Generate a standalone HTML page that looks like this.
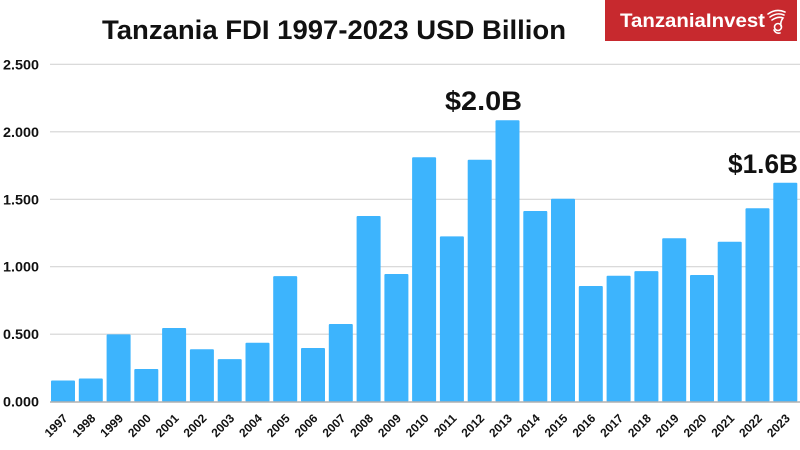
<!DOCTYPE html>
<html><head><meta charset="utf-8"><style>
html,body{margin:0;padding:0;background:#fff;}
svg{display:block;}
text{font-family:"Liberation Sans",Arial,sans-serif;font-weight:bold;fill:#111;}
</style></head><body>
<svg width="800" height="450" viewBox="0 0 800 450" xmlns="http://www.w3.org/2000/svg">
<rect width="800" height="450" fill="#fff"/>
<!-- title -->
<text x="102" y="39" font-size="27" textLength="464" lengthAdjust="spacingAndGlyphs">Tanzania FDI 1997-2023 USD Billion</text>
<!-- logo -->
<rect x="605" y="0" width="192" height="41" fill="#c7292e"/>
<text x="620" y="27" font-size="19.5" style="fill:#fff" textLength="145" lengthAdjust="spacingAndGlyphs">TanzaniaInvest</text>
<g fill="none" stroke="#fff" stroke-width="1.6" stroke-linecap="round">
<path d="M768 14 Q776 8 785 12"/>
<path d="M770 17 Q777 12 784 15"/>
<path d="M772 20 Q778 16 783 18 Q780 22 781 26"/>
<circle cx="778" cy="27" r="3.5"/>
<path d="M774 30 Q776 34 780 33"/>
</g>
<!-- gridlines -->
<g stroke="#d4d4d4" stroke-width="1.2">
<line x1="50" y1="64.3" x2="800" y2="64.3"/>
<line x1="50" y1="131.8" x2="800" y2="131.8"/>
<line x1="50" y1="199.3" x2="800" y2="199.3"/>
<line x1="50" y1="266.7" x2="800" y2="266.7"/>
<line x1="50" y1="334.2" x2="800" y2="334.2"/>
</g>
<!-- y labels -->
<g font-size="13.5">
<text x="3" y="69.3" textLength="36" lengthAdjust="spacingAndGlyphs">2.500</text>
<text x="3" y="136.8" textLength="36" lengthAdjust="spacingAndGlyphs">2.000</text>
<text x="3" y="204.3" textLength="36" lengthAdjust="spacingAndGlyphs">1.500</text>
<text x="3" y="271.7" textLength="36" lengthAdjust="spacingAndGlyphs">1.000</text>
<text x="3" y="339.2" textLength="36" lengthAdjust="spacingAndGlyphs">0.500</text>
<text x="3" y="406.7" textLength="36" lengthAdjust="spacingAndGlyphs">0.000</text>
</g>
<!-- bars -->
<g fill="#3db4fd">
<rect x="51.0" y="380.5" width="24" height="21.2" rx="1"/>
<rect x="78.8" y="378.5" width="24" height="23.2" rx="1"/>
<rect x="106.6" y="334.4" width="24" height="67.3" rx="1"/>
<rect x="134.3" y="369.0" width="24" height="32.7" rx="1"/>
<rect x="162.1" y="328.0" width="24" height="73.7" rx="1"/>
<rect x="189.9" y="349.2" width="24" height="52.5" rx="1"/>
<rect x="217.7" y="359.1" width="24" height="42.6" rx="1"/>
<rect x="245.5" y="342.7" width="24" height="59.0" rx="1"/>
<rect x="273.2" y="276.1" width="24" height="125.6" rx="1"/>
<rect x="301.0" y="348.0" width="24" height="53.7" rx="1"/>
<rect x="328.8" y="324.0" width="24" height="77.7" rx="1"/>
<rect x="356.6" y="216.0" width="24" height="185.7" rx="1"/>
<rect x="384.4" y="274.0" width="24" height="127.7" rx="1"/>
<rect x="412.1" y="157.3" width="24" height="244.4" rx="1"/>
<rect x="439.9" y="236.4" width="24" height="165.3" rx="1"/>
<rect x="467.7" y="159.7" width="24" height="242.0" rx="1"/>
<rect x="495.5" y="120.3" width="24" height="281.4" rx="1"/>
<rect x="523.3" y="211.0" width="24" height="190.7" rx="1"/>
<rect x="551.0" y="198.7" width="24" height="203.0" rx="1"/>
<rect x="578.8" y="286.0" width="24" height="115.7" rx="1"/>
<rect x="606.6" y="275.7" width="24" height="126.0" rx="1"/>
<rect x="634.4" y="271.1" width="24" height="130.6" rx="1"/>
<rect x="662.2" y="238.3" width="24" height="163.4" rx="1"/>
<rect x="690.0" y="275.0" width="24" height="126.7" rx="1"/>
<rect x="717.7" y="241.7" width="24" height="160.0" rx="1"/>
<rect x="745.5" y="208.3" width="24" height="193.4" rx="1"/>
<rect x="773.3" y="182.7" width="24" height="219.0" rx="1"/>
</g>
<!-- baseline -->
<line x1="50" y1="402" x2="800" y2="402" stroke="#b0b0b0" stroke-width="1.4"/>
<!-- annotations -->
<text x="445" y="110" font-size="27" textLength="77" lengthAdjust="spacingAndGlyphs">$2.0B</text>
<text x="728" y="173" font-size="27" textLength="70" lengthAdjust="spacingAndGlyphs">$1.6B</text>
<!-- x labels -->
<g font-size="12" text-anchor="end">
<text transform="translate(68.4,419) rotate(-45)">1997</text>
<text transform="translate(96.2,419) rotate(-45)">1998</text>
<text transform="translate(124.0,419) rotate(-45)">1999</text>
<text transform="translate(151.7,419) rotate(-45)">2000</text>
<text transform="translate(179.5,419) rotate(-45)">2001</text>
<text transform="translate(207.3,419) rotate(-45)">2002</text>
<text transform="translate(235.1,419) rotate(-45)">2003</text>
<text transform="translate(262.9,419) rotate(-45)">2004</text>
<text transform="translate(290.6,419) rotate(-45)">2005</text>
<text transform="translate(318.4,419) rotate(-45)">2006</text>
<text transform="translate(346.2,419) rotate(-45)">2007</text>
<text transform="translate(374.0,419) rotate(-45)">2008</text>
<text transform="translate(401.8,419) rotate(-45)">2009</text>
<text transform="translate(429.5,419) rotate(-45)">2010</text>
<text transform="translate(457.3,419) rotate(-45)">2011</text>
<text transform="translate(485.1,419) rotate(-45)">2012</text>
<text transform="translate(512.9,419) rotate(-45)">2013</text>
<text transform="translate(540.7,419) rotate(-45)">2014</text>
<text transform="translate(568.4,419) rotate(-45)">2015</text>
<text transform="translate(596.2,419) rotate(-45)">2016</text>
<text transform="translate(624.0,419) rotate(-45)">2017</text>
<text transform="translate(651.8,419) rotate(-45)">2018</text>
<text transform="translate(679.6,419) rotate(-45)">2019</text>
<text transform="translate(707.4,419) rotate(-45)">2020</text>
<text transform="translate(735.1,419) rotate(-45)">2021</text>
<text transform="translate(762.9,419) rotate(-45)">2022</text>
<text transform="translate(790.7,419) rotate(-45)">2023</text>
</g>
</svg>
</body></html>
